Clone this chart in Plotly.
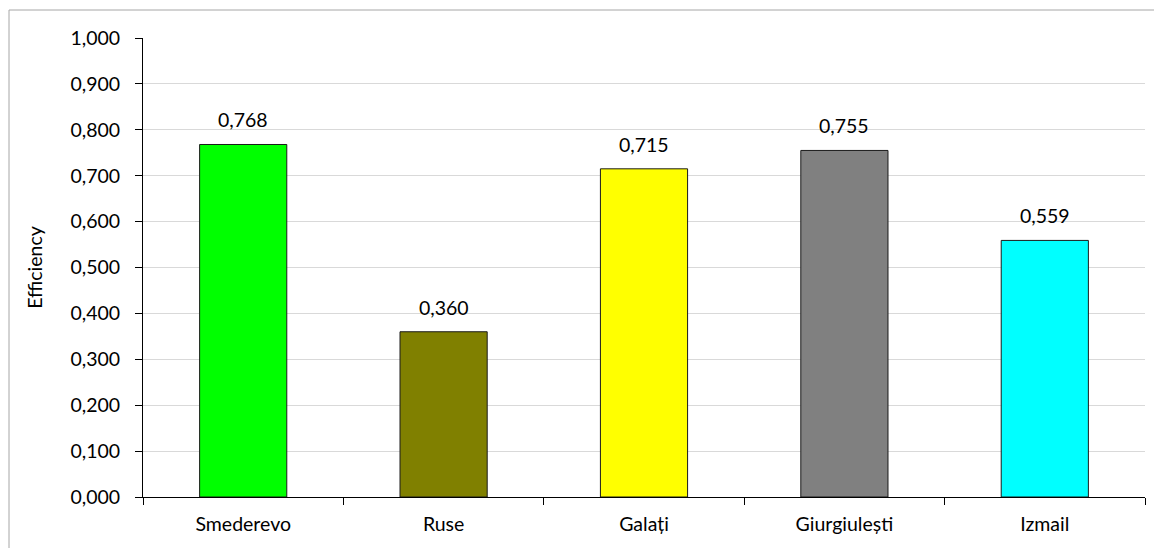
import plotly.graph_objects as go

# Port efficiency scores
ports = ["Smederevo", "Ruse", "Galați", "Giurgiulești", "Izmail"]
efficiency = [0.768, 0.360, 0.715, 0.755, 0.559]
bar_colors = ["#00FF00", "#808000", "#FFFF00", "#808080", "#00FFFF"]
y_ticks = [0.0, 0.1, 0.2, 0.3, 0.4, 0.5, 0.6, 0.7, 0.8, 0.9, 1.0]

FONT = "Lato, Calibri, Carlito, sans-serif"
FS = 19.5

W, H = 1154, 548
L, R, T, B = 143, 9, 38, 51
pw, ph = W - L - R, H - T - B

fig = go.Figure(
    go.Bar(
        x=ports,
        y=efficiency,
        marker=dict(color=bar_colors, line=dict(color="#1a1a1a", width=1)),
        width=0.435,
        hoverinfo="x+y",
    )
)

# value labels above each bar
for p, v in zip(ports, efficiency):
    fig.add_annotation(
        x=p, y=v, text=f"{v:.3f}".replace(".", ","),
        showarrow=False, yanchor="bottom", yshift=11,
        font=dict(family=FONT, size=FS, color="#000000"),
    )

# outer chart frame
fig.add_shape(
    type="rect", xref="paper", yref="paper",
    x0=(9 - L) / pw, x1=(W + 5 - L) / pw,
    y0=-(H + 5 - T - ph) / ph, y1=1 + (T - 10) / ph,
    line=dict(color="#A6A6A6", width=1), fillcolor="rgba(0,0,0,0)", layer="below",
)

fig.update_layout(
    width=W, height=H,
    margin=dict(l=L, r=R, t=T, b=B),
    paper_bgcolor="white", plot_bgcolor="white",
    separators=", ",
    showlegend=False,
    font=dict(family=FONT, size=FS, color="#000000"),
    xaxis=dict(
        type="category",
        tickson="boundaries",
        ticks="outside", ticklen=7, tickcolor="#000000",
        showline=True, linecolor="#000000", linewidth=1,
        showgrid=False,
        tickfont=dict(family=FONT, size=FS),
        ticklabelstandoff=10,
        range=[-0.5, 4.5],
    ),
    yaxis=dict(
        range=[0, 1.0],
        tickvals=y_ticks,
        tickformat=".3f",
        ticks="outside", ticklen=7, tickcolor="#000000",
        showline=True, linecolor="#000000", linewidth=1,
        showgrid=True, gridcolor="#D9D9D9", gridwidth=1,
        zeroline=False,
        tickfont=dict(family=FONT, size=FS),
        ticklabelstandoff=11,
        title=dict(text="Efficiency", font=dict(family=FONT, size=FS), standoff=22),
    ),
)

fig.write_html("out.html")
